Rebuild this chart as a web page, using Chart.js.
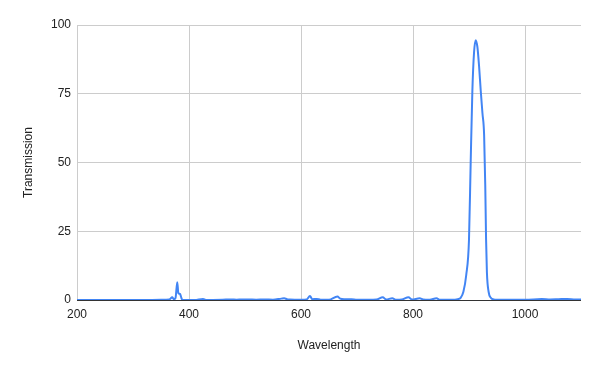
<!DOCTYPE html>
<html>
<head>
<meta charset="utf-8">
<script src="https://cdn.jsdelivr.net/npm/chart.js@4.4.1/dist/chart.umd.min.js"></script>
<style>
  html, body { margin: 0; padding: 0; background: #fff; }
  #wrap { width: 600px; height: 371px; position: relative; }
</style>
</head>
<body>
<div id="wrap"><canvas id="specChart"></canvas></div>
<script>
// Wavelength (nm) and transmission (%)
const wavelength = [
  200, 250, 300, 350, 365, 370, 373, 376, 379, 381, 384, 386, 388, 395,
  410, 425, 430, 460, 475, 485, 495, 505, 520, 535, 550, 565, 570, 575,
  580, 600, 610, 616, 620, 628, 635, 650, 665, 670, 677, 690, 700, 720,
  735, 746, 752, 763, 770, 780, 792, 798, 812, 818, 830, 842, 848, 860,
  875, 880, 885, 890, 895, 900, 903, 906, 909, 912, 915, 918, 921, 924,
  927, 929, 930.5, 932, 935, 939, 944, 950, 980, 1000, 1030, 1045, 1060,
  1075, 1090, 1100
];
const transmission = [
  0, 0, 0, 0.05, 0.2, 1.0, 0.3, 0.8, 6.5, 2.5, 2.2, 1.0, 0.1, 0,
  0, 0.4, 0, 0.1, 0.2, 0.1, 0.2, 0.2, 0.1, 0.2, 0.1, 0.5, 0.6, 0.3,
  0.2, 0.1, 0.2, 1.5, 0.3, 0.4, 0.1, 0.1, 1.3, 0.5, 0.3, 0.3, 0.1, 0.1,
  0.2, 1.0, 0.2, 0.6, 0.1, 0.2, 1.0, 0.2, 0.6, 0.2, 0.1, 0.6, 0.1, 0.05,
  0.1, 0.3, 0.8, 3, 9, 22, 50, 76, 90, 94.5, 92, 85, 76, 68,
  60, 42, 22, 10, 3, 0.8, 0.2, 0.1, 0.1, 0.05, 0.4, 0.2, 0.3,
  0.4, 0.2, 0.2
];
const xTicks = [200, 400, 600, 800, 1000];
const yTicks = [0, 25, 50, 75, 100];

const font = { family: "'Liberation Sans', Arial, sans-serif", size: 12 };

document.addEventListener("DOMContentLoaded", () => {
  const ctx = document.getElementById("specChart").getContext("2d");

  new Chart(ctx, {
    type: "line",
    data: {
      datasets: [{
        label: "Transmission",
        data: wavelength.map((w, i) => ({ x: w, y: transmission[i] })),
        borderColor: "#4285F4",
        borderWidth: 2,
        pointRadius: 0,
        fill: false,
        cubicInterpolationMode: "monotone"
      }]
    },
    options: {
      responsive: true,
      maintainAspectRatio: false,
      animation: false,
      layout: { padding: { left: 0, right: 19, top: 25, bottom: 0 } },
      plugins: { legend: { display: false }, tooltip: { enabled: false } },
      scales: {
        x: {
          type: "linear",
          min: 200,
          max: 1100,
          afterBuildTicks: (s) => { s.ticks = xTicks.map(v => ({ value: v })); },
          afterFit: (s) => { s.height = 71; },
          ticks: { color: "#222", font, padding: 7, maxRotation: 0, callback: (v) => String(v) },
          grid: { color: "#cccccc", drawTicks: false },
          border: { display: false },
          title: { display: true, text: "Wavelength", color: "#222", font, padding: { top: 0, bottom: 18 } }
        },
        y: {
          min: 0,
          max: 100,
          afterBuildTicks: (s) => { s.ticks = yTicks.map(v => ({ value: v })); },
          afterFit: (s) => { s.width = 77; },
          ticks: { color: "#222", font, padding: 6 },
          grid: {
            color: (c) => (c.tick && c.tick.value === 0 ? "#333333" : "#cccccc"),
            drawTicks: false
          },
          border: { display: false },
          title: { display: true, text: "Transmission", color: "#222", font, padding: { top: 21, bottom: 0 } }
        }
      }
    }
  });
});
</script>
</body>
</html>
